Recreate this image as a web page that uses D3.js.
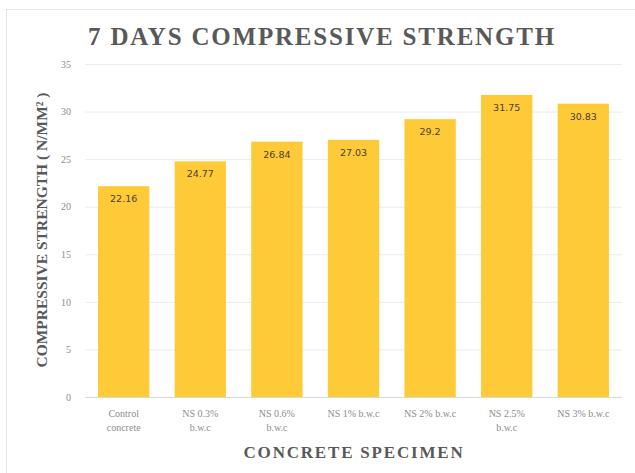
<!DOCTYPE html>
<html>
<head>
<meta charset="utf-8">
<script src="https://cdn.jsdelivr.net/npm/d3@7"></script>
<style>
  body { margin: 0; background: #fff; }
  svg { display: block; }
</style>
</head>
<body>
<div class="chart"></div>
<script>
const categories = [
    ["Control", "concrete"],
    ["NS 0.3%", "b.w.c"],
    ["NS 0.6%", "b.w.c"],
    ["NS 1% b.w.c"],
    ["NS 2% b.w.c"],
    ["NS 2.5%", "b.w.c"],
    ["NS 3% b.w.c"]
]
const strength = [22.16, 24.77, 26.84, 27.03, 29.2, 31.75, 30.83]
const labels = ["22.16", "24.77", "26.84", "27.03", "29.2", "31.75", "30.83"]
const yTicks = [0, 5, 10, 15, 20, 25, 30, 35]

const width = 635
const height = 473
const margin = { top: 64, right: 13, bottom: 76, left: 85 }
const serif = "'Liberation Serif', 'DejaVu Serif', serif"

const svg = d3.select(".chart").append("svg")
    .attr("width", width)
    .attr("height", height)

// faint frame round the chart
svg.append("rect")
    .attr("x", 6.5).attr("y", 9.5)
    .attr("width", width).attr("height", height)
    .attr("fill", "none")
    .attr("stroke", "#e4e4e4")

const plotW = width - margin.left - margin.right
const plotH = height - margin.top - margin.bottom

const g = svg.append("g")
    .attr("transform", "translate(" + margin.left + "," + margin.top + ")")

const xScale = d3.scaleBand()
    .domain(d3.range(categories.length))
    .range([0, plotW])
    .paddingInner(0.33)
    .paddingOuter(0.17)

const yScale = d3.scaleLinear().domain([0, 35]).range([plotH, 0])

// gridlines
g.selectAll(".grid")
    .data(yTicks)
    .enter()
    .append("line")
    .attr("x1", 0).attr("x2", plotW)
    .attr("y1", d => yScale(d) + 0.5).attr("y2", d => yScale(d) + 0.5)
    .attr("stroke", d => d === 0 ? "#d9d9d9" : "#ececec")

// y axis labels
const yAxis = g.append("g")
    .call(d3.axisLeft(yScale).tickValues(yTicks).tickSize(0).tickPadding(14))
yAxis.select(".domain").remove()
yAxis.selectAll("text")
    .attr("font-family", serif)
    .attr("font-size", 10)
    .attr("fill", "#8c8c8c")

// bars
g.selectAll(".bar")
    .data(strength)
    .enter()
    .append("rect")
    .attr("x", (d, i) => xScale(i))
    .attr("y", d => yScale(d))
    .attr("width", xScale.bandwidth())
    .attr("height", d => plotH - yScale(d))
    .attr("fill", "#ffca38")

// value labels inside bars
g.selectAll(".val")
    .data(strength)
    .enter()
    .append("text")
    .attr("x", (d, i) => xScale(i) + xScale.bandwidth() / 2)
    .attr("y", d => yScale(d) + 16)
    .attr("text-anchor", "middle")
    .attr("font-family", "'DejaVu Sans', sans-serif")
    .attr("font-size", 9.5)
    .attr("fill", "#4a4030")
    .text((d, i) => labels[i])

// x category labels
const xLab = g.selectAll(".xl")
    .data(categories)
    .enter()
    .append("text")
    .attr("x", (d, i) => xScale(i) + xScale.bandwidth() / 2)
    .attr("y", plotH + 20)
    .attr("text-anchor", "middle")
    .attr("font-family", serif)
    .attr("font-size", 10)
    .attr("fill", "#8c8c8c")
xLab.selectAll("tspan")
    .data(d => d)
    .enter()
    .append("tspan")
    .attr("x", function () { return this.parentNode.getAttribute("x") })
    .attr("dy", (d, j) => j === 0 ? 0 : 14)
    .text(d => d)

// titles
svg.append("text")
    .attr("x", 322).attr("y", 45)
    .attr("text-anchor", "middle")
    .attr("font-family", serif)
    .attr("font-weight", "bold")
    .attr("font-size", 25)
    .attr("letter-spacing", 1.8)
    .attr("fill", "#595959")
    .text("7 DAYS COMPRESSIVE STRENGTH")

svg.append("text")
    .attr("x", 354).attr("y", 458)
    .attr("text-anchor", "middle")
    .attr("font-family", serif)
    .attr("font-weight", "bold")
    .attr("font-size", 17)
    .attr("letter-spacing", 1.8)
    .attr("fill", "#595959")
    .text("CONCRETE SPECIMEN")

svg.append("text")
    .attr("transform", "translate(47,230) rotate(-90)")
    .attr("text-anchor", "middle")
    .attr("font-family", serif)
    .attr("font-weight", "bold")
    .attr("font-size", 15.5)
    .attr("fill", "#595959")
    .text("COMPRESSIVE STRENGTH ( N/MM² )")
</script>
</body>
</html>
